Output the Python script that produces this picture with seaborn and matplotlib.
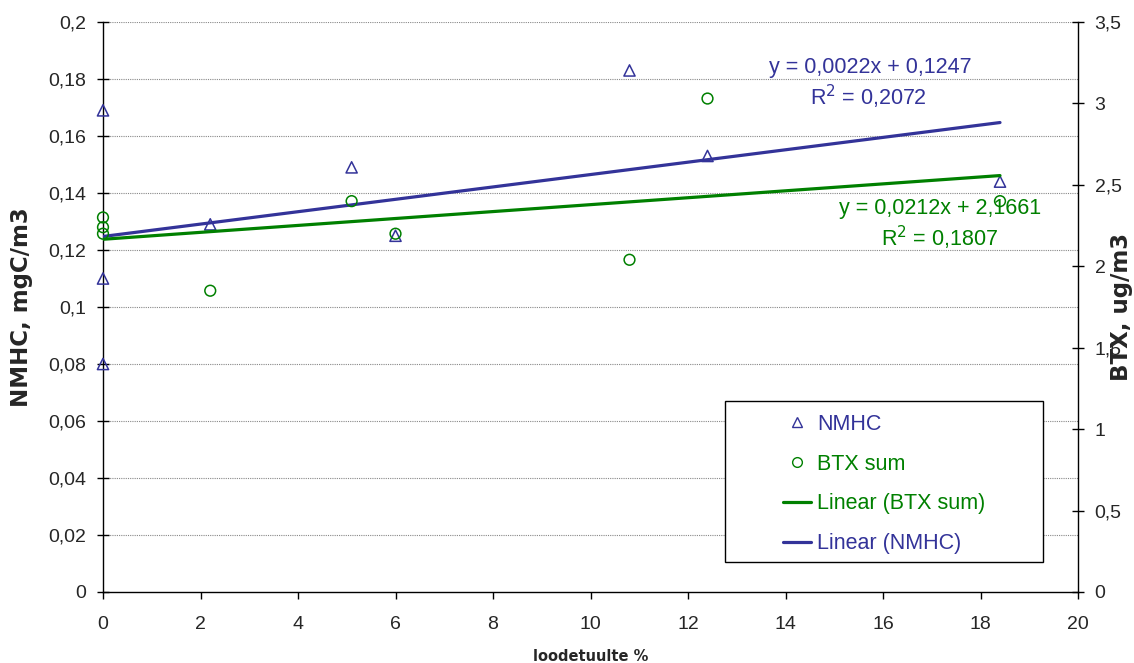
import matplotlib
matplotlib.use("Agg")
import matplotlib.pyplot as plt
import seaborn as sns
import pandas as pd
import numpy as np
from matplotlib.lines import Line2D
from matplotlib.patches import Rectangle

sns.set_theme(style="white")
plt.rcParams['font.family'] = ['Liberation Sans', 'DejaVu Sans']

# Data
nmhc_x = [0, 0, 0, 2.2, 5.1, 6, 10.8, 12.4, 18.4]
nmhc_y = [0.169, 0.110, 0.080, 0.129, 0.149, 0.125, 0.183, 0.153, 0.144]
btx_x = [0, 0, 0, 2.2, 5.1, 6, 10.8, 12.4, 18.4]
btx_y = [2.30, 2.24, 2.20, 1.85, 2.40, 2.20, 2.04, 3.03, 2.40]
nmhc_eq = "y = 0,0022x + 0,1247"
nmhc_r2 = "R$^2$ = 0,2072"
btx_eq = "y = 0,0212x + 2,1661"
btx_r2 = "R$^2$ = 0,1807"
left_ticks = [0, 0.02, 0.04, 0.06, 0.08, 0.1, 0.12, 0.14, 0.16, 0.18, 0.2]
left_labels = ["0", "0,02", "0,04", "0,06", "0,08", "0,1", "0,12", "0,14", "0,16", "0,18", "0,2"]
right_ticks = [0, 0.5, 1, 1.5, 2, 2.5, 3, 3.5]
right_labels = ["0", "0,5", "1", "1,5", "2", "2,5", "3", "3,5"]
x_ticks = [0, 2, 4, 6, 8, 10, 12, 14, 16, 18, 20]
legend_labels = ["NMHC", "BTX sum", "Linear (BTX sum)", "Linear (NMHC)"]

BLUE = "#333399"
GREEN = "#008000"
TICK_FS = 14
TXT_FS = 15.5
LABEL_FONT = ['DejaVu Sans']

df_n = pd.DataFrame({"x": nmhc_x, "y": nmhc_y})
df_b = pd.DataFrame({"x": btx_x, "y": btx_y})

fig = plt.figure(figsize=(11.34, 6.63), dpi=100)
ax = fig.add_axes([103/1134, 1-592/663, (1078-103)/1134, (592-22)/663])
ax2 = ax.twinx()

# gridlines
for t in left_ticks[1:]:
    ax.axhline(t, color="#888888", lw=0.8, ls=(0, (1, 1)), zorder=0)

sns.regplot(data=df_n, x="x", y="y", ax=ax, scatter=False, ci=None, truncate=True,
            line_kws=dict(color=BLUE, lw=2.3, zorder=3))
sns.scatterplot(data=df_n, x="x", y="y", ax=ax, marker="^", s=65,
                facecolor="none", edgecolor=BLUE, linewidth=1.1, zorder=4, clip_on=False)

sns.regplot(data=df_b, x="x", y="y", ax=ax2, scatter=False, ci=None, truncate=True,
            line_kws=dict(color=GREEN, lw=2.3, zorder=3))
sns.scatterplot(data=df_b, x="x", y="y", ax=ax2, marker="o", s=60,
                facecolor="none", edgecolor=GREEN, linewidth=1.1, zorder=4, clip_on=False)

ax.set_xlim(0, 20)
ax.set_ylim(0, 0.2)
ax2.set_ylim(0, 3.5)
ax.set_xticks(x_ticks)
ax.set_xticklabels([str(t) for t in x_ticks], fontsize=TICK_FS)
ax.set_yticks(left_ticks)
ax.set_yticklabels(left_labels, fontsize=TICK_FS)
ax2.set_yticks(right_ticks)
ax2.set_yticklabels(right_labels, fontsize=TICK_FS)

for a in (ax, ax2):
    for s in a.spines.values():
        s.set_visible(False)
ax.spines["left"].set_visible(True)
ax.spines["bottom"].set_visible(True)
ax2.spines["right"].set_visible(True)
for s in (ax.spines["left"], ax.spines["bottom"], ax2.spines["right"]):
    s.set_color("black")
    s.set_linewidth(1.0)

ax.tick_params(axis="y", direction="inout", length=8, width=1, color="black", pad=8, left=True)
ax.tick_params(axis="x", direction="out", length=5, width=1, color="black", pad=12, bottom=True)
ax2.tick_params(axis="y", direction="inout", length=8, width=1, color="black", pad=8, right=True)

ax.set_xlabel("loodetuulte %", fontsize=10.5, fontweight="bold", family=LABEL_FONT)
ax.xaxis.set_label_coords(0.5, (592-649)/570)
ax.set_ylabel("NMHC, mgC/m3", fontsize=16.5, fontweight="bold", family=LABEL_FONT)
ax.yaxis.set_label_coords((33-103)/975, 0.5)
ax2.set_ylabel("BTX, ug/m3", fontsize=16.5, fontweight="bold", family=LABEL_FONT)
ax2.yaxis.set_label_coords((1110-103)/975, 0.5)

ax.grid(False)
ax2.grid(False)

# trend annotations
ax.text(15.73, 0.1839, nmhc_eq, color=BLUE, fontsize=TXT_FS, ha="center", va="center")
ax.text(15.70, 0.1737, nmhc_r2, color=BLUE, fontsize=TXT_FS, ha="center", va="center")
ax.text(17.17, 0.1347, btx_eq, color=GREEN, fontsize=TXT_FS, ha="center", va="center")
ax.text(17.17, 0.1242, btx_r2, color=GREEN, fontsize=TXT_FS, ha="center", va="center")

# legend box
box = Rectangle(((725-103)/975, (592-562)/570), (1043-725)/975, (562-401)/570,
                transform=ax2.transAxes, facecolor="white", edgecolor="black",
                lw=1.0, zorder=9)
ax2.add_patch(box)

handles = [
    Line2D([], [], ls="none", marker="^", markerfacecolor="none", markeredgecolor=BLUE, markersize=7),
    Line2D([], [], ls="none", marker="o", markerfacecolor="none", markeredgecolor=GREEN, markersize=7),
    Line2D([], [], color=GREEN, lw=2.3),
    Line2D([], [], color=BLUE, lw=2.3),
]
leg = ax2.legend(handles, legend_labels, loc="upper left",
                 bbox_to_anchor=((783-103)/975, (592-414)/570),
                 fontsize=TXT_FS, frameon=False, handlelength=1.3,
                 labelspacing=0.87, borderpad=0, handletextpad=0.3, borderaxespad=0)
for t, c in zip(leg.get_texts(), [BLUE, GREEN, GREEN, BLUE]):
    t.set_color(c)
leg.set_zorder(10)

fig.savefig("out.png", dpi=100)
